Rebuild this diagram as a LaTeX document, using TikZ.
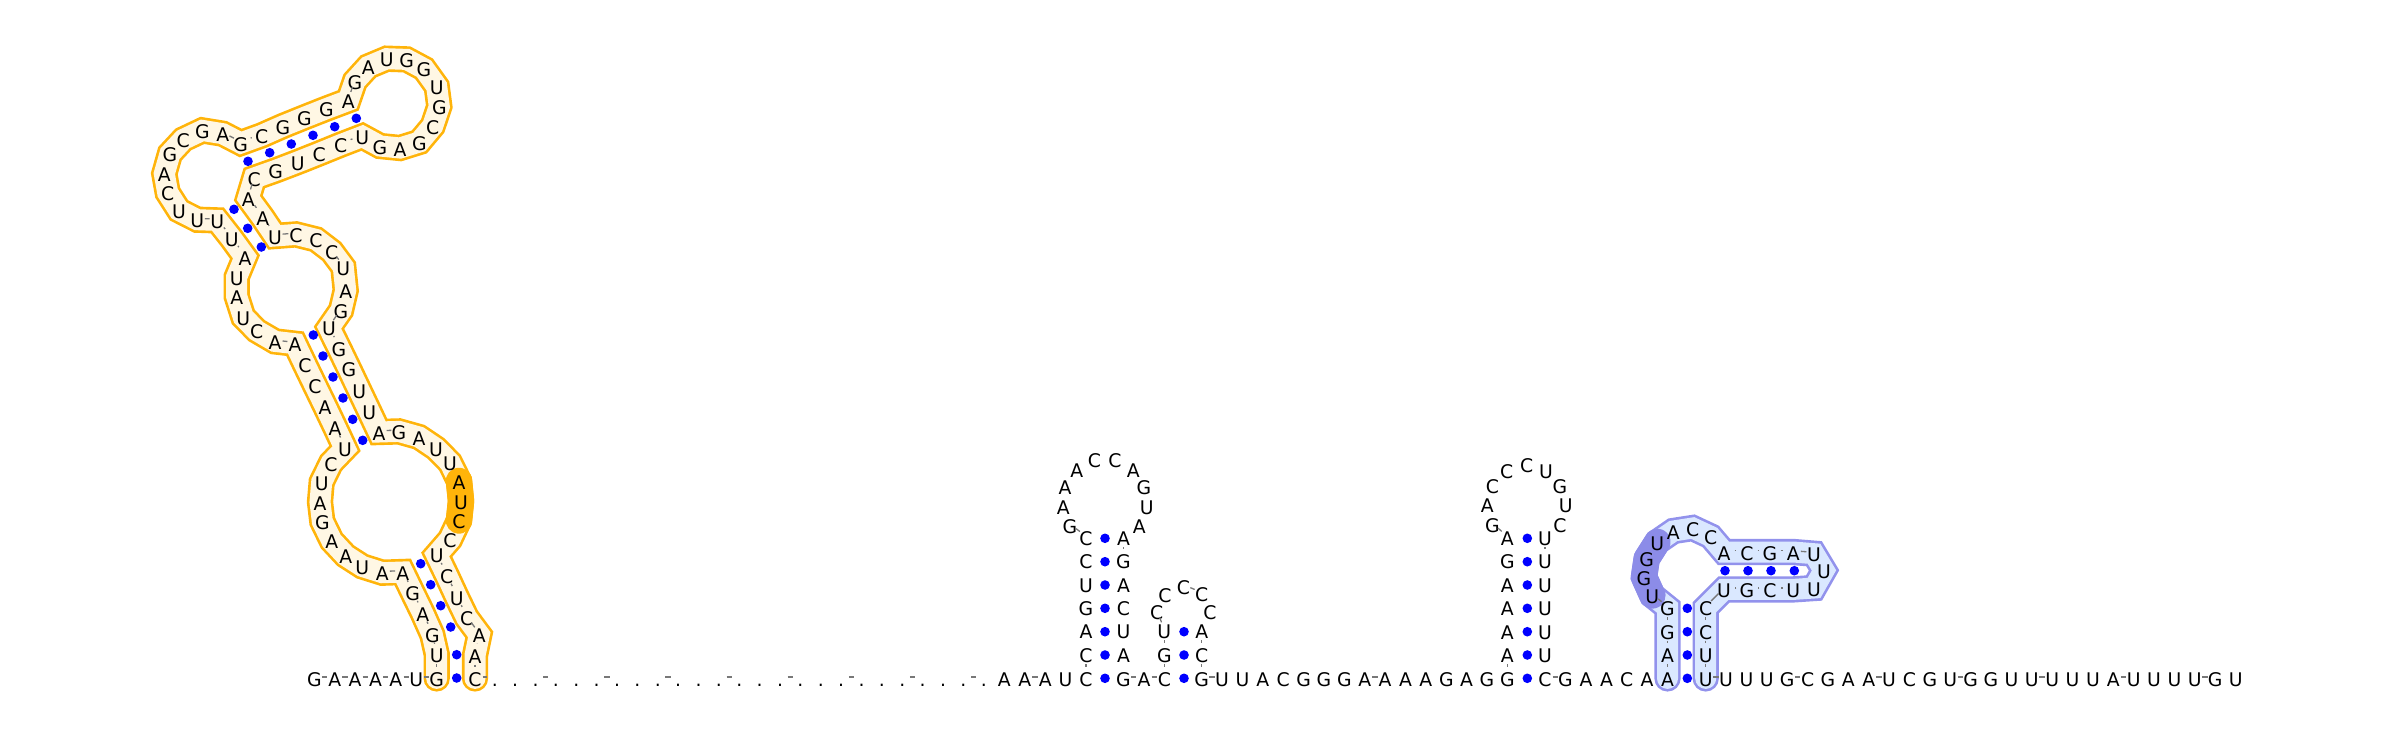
\documentclass[tikz,border=0pt]{standalone}
\usepackage{fontspec}
\setmainfont{DejaVu Sans}
\pgfdeclarelayer{bg}
\pgfsetlayers{bg,main}
\definecolor{orangeedge}{RGB}{255,180,10}
\definecolor{orangefill}{RGB}{255,247,228}
\definecolor{blueedge}{RGB}{146,146,236}
\definecolor{bluefill}{RGB}{218,232,255}
\definecolor{purpleblob}{RGB}{140,140,232}
\definecolor{linkgray}{RGB}{120,120,120}
\definecolor{pairblue}{RGB}{0,0,255}
\newcommand{\ntext}[1]{\makebox[0pt][c]{\smash{\raisebox{-9.4pt}{#1}}}}
\tikzset{
  x=1pt,y=-1pt,
  nt/.style={circle,inner sep=0pt,outer sep=0pt,minimum size=15.2pt,yshift=2.6pt,
    font=\fontsize{18.8}{20}\selectfont},
  pair/.style={circle,inner sep=0pt,outer sep=0pt,minimum size=9.6pt,fill=pairblue},
  linkdash/.style={draw=linkgray,line width=1.3pt},
  linkshort/.style={linkdash,shorten >=3pt,shorten <=3pt},
  bandbase/.style={line join=miter,miter limit=10,line cap=round},
  bandouter/.style={bandbase,line width=26.3pt},
  bandinner/.style={bandbase,line width=21pt},
  blob/.style={bandbase,line join=round,line width=26.5pt},
}
\begin{document}
\begin{tikzpicture}
\useasboundingbox (0,0) rectangle (2400,736);
\foreach \i/\ltr/\x/\y in {
1/G/314.3/679.7,2/A/334.7/679.7,3/A/355.1/679.7,4/A/375.5/679.7,5/A/395.9/679.7,6/U/416.3/679.7,7/G/436.7/679.7,
8/U/436.7/655.5,9/G/432.3/636,10/A/422.7/614.5,11/G/412.7/594,12/A/402.7/573.3,13/A/382.3/574,14/U/362.3/567.7,
15/A/345.7/557,16/A/331.7/542,17/G/322.3/522.7,18/A/320/503.3,19/U/321.7/483.3,20/C/331/464.3,21/U/345/449.7,
22/A/335/428.3,23/A/325/407.3,24/C/315/386.7,25/C/305/366,26/A/295/345,27/A/275/342.7,28/C/256.7/332,29/U/243.3/318.3,
30/A/236.7/297.7,31/U/236.7/278.3,32/A/245/258.3,33/U/231.7/240,34/U/217.3/221.7,35/U/197.3/221,36/U/179/211.7,
37/C/167.7/194,38/A/164.3/175,39/G/170/155,40/C/183.3/140.7,41/G/202.3/131.7,42/A/222.7/135,43/G/240.7/144.3,
44/C/261.7/136.7,45/G/283/127.3,46/G/304.3/118.7,47/G/326.3/110,48/A/348.3/101.7,49/G/355/82.3,50/A/368.3/67.7,
51/U/386.7/60,52/G/406.7/60.7,53/G/424/70,54/U/436.7/87.7,55/G/439.3/107.7,56/C/432.7/127.3,57/G/419.3/143.3,
58/A/400/149.3,59/G/380/147.3,60/U/362.3/137.7,61/C/340.7/146,62/C/319.3/154.7,63/U/297.7/163.3,64/G/275.7/171.7,
65/C/254.3/179.3,66/A/248.3/199.3,67/A/262.7/219,68/U/275/237.3,69/C/296/235.7,70/C/316/240.7,71/C/331.7/252.7,
72/U/343.3/268.3,73/A/345.7/291.7,74/G/341/311.7,75/U/329/329,76/G/339/349.3,77/G/349/370,78/U/359.3/391.7,
79/U/369.3/412.7,80/A/379/433.3,81/G/399/432.7,82/A/419/438.3,83/U/436/449.7,84/U/450/464,85/A/459/482.3,
86/U/461/502.3,87/C/459/521.7,88/C/450/540.7,89/U/436.7/556,90/C/446.7/576.7,91/U/456.7/598.3,92/C/466.7/619,
93/A/479.3/636,94/A/475/656.7,95/C/475/679.7,
96/./494.8/679.7,97/./515.2/679.7,98/./535.6/679.7,99/./555.9/679.7,100/./576.3/679.7,101/./596.7/679.7,102/./617.1/679.7,
103/./637.4/679.7,104/./657.8/679.7,105/./678.2/679.7,106/./698.6/679.7,107/./718.9/679.7,108/./739.3/679.7,109/./759.7/679.7,
110/./780.1/679.7,111/./800.4/679.7,112/./820.8/679.7,113/./841.2/679.7,114/./861.6/679.7,115/./881.9/679.7,116/./902.3/679.7,
117/./922.7/679.7,118/./943.1/679.7,119/./963.4/679.7,120/./983.8/679.7,
121/A/1004.4/679.7,122/A/1024.8/679.7,123/A/1045.2/679.7,124/U/1065.6/679.7,125/C/1086/679.7,
126/C/1086/655.5,127/A/1086/632,128/G/1086/608.7,129/U/1086/585.3,130/C/1086/562,131/C/1086/538.7,
132/G/1070/526.7,133/A/1063.3/507.7,134/A/1065/487.7,135/A/1076.7/470.7,136/C/1094.3/461,137/C/1115/461,138/A/1133.3/470.7,
139/G/1144/487.7,140/U/1146.7/507.7,141/A/1139.3/526.7,142/A/1123.5/539,143/G/1123.5/562,144/A/1123.5/585.3,145/C/1123.5/608.7,
146/U/1123.5/632,147/A/1123.5/655.5,148/G/1123.5/679.7,149/A/1144/679.7,150/C/1164.3/679.7,151/G/1164.3/656,152/U/1164.3/632,
153/C/1156.7/612.7,154/C/1165/595.7,155/C/1183.3/587.3,156/C/1201.7/595,157/C/1210/612.7,158/A/1201.7/632,159/C/1201.7/656,
160/G/1201.7/679.7,161/U/1222.1/679.7,162/U/1242.5/679.7,163/A/1262.8/679.7,164/C/1283.2/679.7,165/G/1303.6/679.7,
166/G/1324/679.7,167/G/1344.4/679.7,168/A/1364.7/679.7,169/A/1385.1/679.7,170/A/1405.5/679.7,171/A/1425.9/679.7,
172/G/1446.3/679.7,173/A/1466.6/679.7,174/G/1487/679.7,175/G/1507.4/679.7,
176/A/1507.4/656,177/A/1507.4/632.5,178/A/1507.4/608.7,179/A/1507.4/585.3,180/G/1507.4/562,181/A/1507.4/539,
182/G/1492.3/525.7,183/A/1487.3/506,184/C/1492.3/486.7,185/C/1506.7/471.7,186/C/1526.7/466,187/U/1546/471.7,188/G/1560/486.7,
189/U/1565.7/506,190/C/1560/525.7,191/U/1545/539,192/U/1545/562,193/U/1545/585.3,194/U/1545/608.7,195/U/1545/632.5,196/U/1545/656,
197/C/1545/679.7,198/G/1565.5/679.7,199/A/1586/679.7,200/A/1606.5/679.7,201/C/1626.7/679.7,202/A/1647/679.7,203/A/1667.5/679.7,
204/A/1667.5/656,205/G/1667.5/632.7,206/G/1667.5/609,207/U/1652.3/596.7,208/G/1644/578.3,209/G/1646.7/560,210/U/1657.3/543.3,
211/A/1673.3/532.3,212/C/1692.7/529.3,213/C/1710.7/537.7,214/A/1724/553.3,215/C/1747/553.3,216/G/1770/553.3,217/A/1793.3/553.3,
218/U/1814/555,219/U/1824/571.7,220/U/1814/589.3,221/U/1793.3/590.7,222/C/1770/590.7,223/G/1747/590.7,224/U/1724/590.7,
225/C/1705.7/609,226/C/1705.7/632.7,227/U/1705.7/656,228/U/1705.7/679.7,
229/U/1726.1/679.7,230/U/1746.5/679.7,231/U/1766.8/679.7,232/G/1787.2/679.7,233/C/1807.6/679.7,234/G/1828/679.7,
235/A/1848.4/679.7,236/A/1868.7/679.7,237/U/1889.1/679.7,238/C/1909.5/679.7,239/G/1929.9/679.7,240/U/1950.3/679.7,
241/G/1970.6/679.7,242/G/1991/679.7,243/U/2011.4/679.7,244/U/2031.8/679.7,245/U/2052.2/679.7,246/U/2072.5/679.7,
247/U/2092.9/679.7,248/A/2113.3/679.7,249/U/2133.7/679.7,250/U/2154/679.7,251/U/2174.4/679.7,252/U/2194.8/679.7,
253/G/2215.2/679.7,254/U/2235.6/679.7}
  {\node[nt] (n\i) at (\x,\y) {\ntext{\ltr}};}
% backbone links
\foreach \i [evaluate=\i as \j using int(\i+1)] in {1,...,6,12,...,20,26,...,31,34,...,42,48,...,59,65,68,...,74,80,...,88,92,95,...,124,131,...,141,148,149,152,...,157,160,...,174,181,...,190,197,...,202,206,...,213,217,...,220,224,228,...,253}
  {\draw[linkdash] (n\i) -- (n\j);}
\foreach \i [evaluate=\i as \j using int(\i+1)] in {7,...,11,21,...,25,32,33,43,...,47,60,...,64,66,67,75,...,79,89,90,91,93,94,125,...,130,142,...,147,150,151,158,159,175,...,180,191,...,196,203,204,205,214,215,216,221,222,223,225,226,227}
  {\draw[linkshort] (n\i) -- (n\j);}
% base pairs
\foreach \k/\x/\y in {
a1/456.7/678,a2/456.7/654.7,a3/450.7/627,a4/440.7/605.7,a5/430.7/584.7,a6/420.7/563.7,
a7/362.7/440.3,a8/352.7/419.3,a9/343/398,a10/333/377,a11/323/356,a12/313.3/335,
a13/261.3/247,a14/247.7/228.3,a15/234/209.3,
a16/248/161.3,a17/269.7/152.7,a18/291.3/144,a19/313/135.3,a20/334.7/126.7,a21/356.3/118.3,
b1/1105/678.3,b2/1105/655,b3/1105/631.7,b4/1105/608.3,b5/1105/585,b6/1105/561.7,b7/1105/538.3,
c1/1184/678.3,c2/1184/655,c3/1184/631.7,
d1/1527.3/678.3,d2/1527.3/655,d3/1527.3/631.7,d4/1527.3/608.3,d5/1527.3/585,d6/1527.3/561.7,d7/1527.3/538.3,
e1/1687.3/678.3,e2/1687.3/655,e3/1687.3/631.7,e4/1687.3/608.3,
e5/1725/570.7,e6/1748/570.7,e7/1771/570.7,e8/1794.3/570.7}
  {\node[pair] (p\k) at (\x,\y) {};}
% highlighted bands
\begin{pgfonlayer}{bg}
\draw[bandouter,draw=orangeedge] ([yshift=-1.3pt]n7.center) \foreach \i in {8,...,95} { -- ([yshift=-1.3pt]n\i.center) };
\draw[bandinner,draw=orangefill] ([yshift=-1.3pt]n7.center) \foreach \i in {8,...,95} { -- ([yshift=-1.3pt]n\i.center) };
\draw[blob,draw=orangeedge] ([yshift=-1.3pt]n85.center) -- ([yshift=-1.3pt]n86.center) -- ([yshift=-1.3pt]n87.center);
\draw[bandouter,draw=blueedge] ([yshift=-1.3pt]n203.center) \foreach \i in {204,...,228} { -- ([yshift=-1.3pt]n\i.center) };
\draw[bandinner,draw=bluefill] ([yshift=-1.3pt]n203.center) \foreach \i in {204,...,228} { -- ([yshift=-1.3pt]n\i.center) };
\draw[blob,draw=purpleblob] ([yshift=-1.3pt]n207.center) -- ([yshift=-1.3pt]n208.center) -- ([yshift=-1.3pt]n209.center) -- ([yshift=-1.3pt]n210.center);
\end{pgfonlayer}
\end{tikzpicture}
\end{document}
